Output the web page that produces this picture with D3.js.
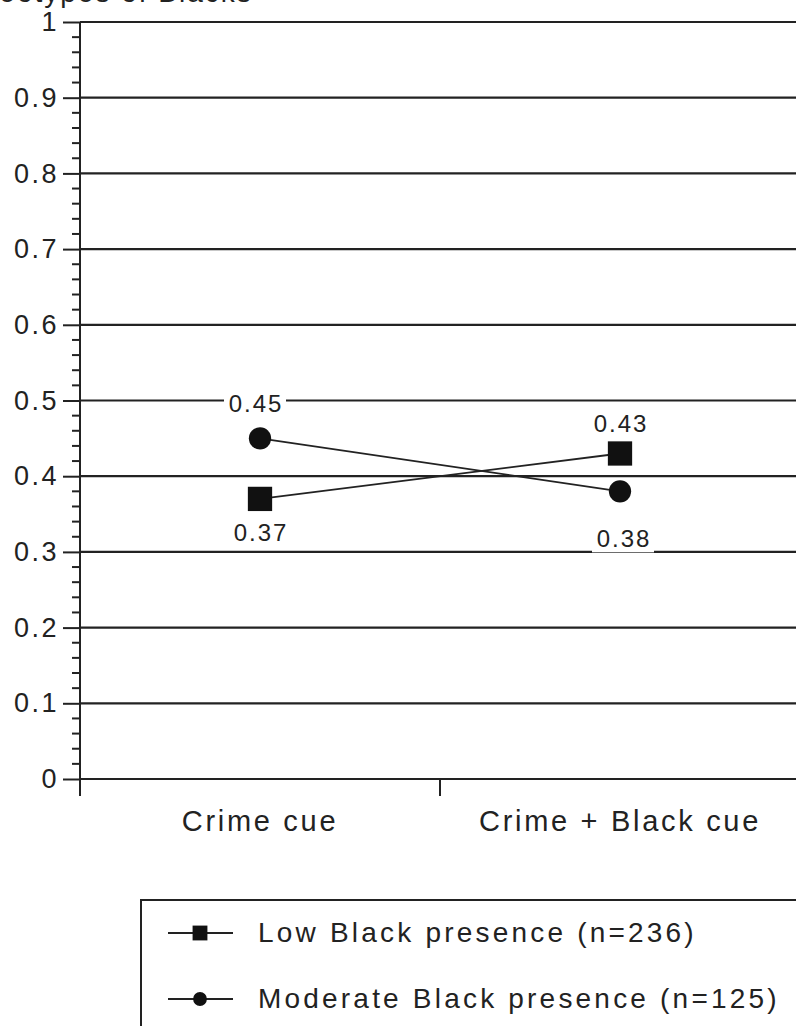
<!DOCTYPE html>
<html>
<head>
<meta charset="utf-8">
<script src="https://cdn.jsdelivr.net/npm/d3@7"></script>
<style>
  body { margin: 0; background: #fff; }
  text { font-family: "Liberation Sans", Arial, sans-serif; fill: #222; }
</style>
</head>
<body>
<div id="chart"></div>
<script>
// chart data
var categories = ["Crime cue", "Crime + Black cue"];
var lowPresence = [0.37, 0.43];
var moderatePresence = [0.45, 0.38];
var seriesNames = ["Low Black presence (n=236)", "Moderate Black presence (n=125)"];
var yTicks = [0, 0.1, 0.2, 0.3, 0.4, 0.5, 0.6, 0.7, 0.8, 0.9, 1];

var svgWidth = 796;
var svgHeight = 1026;

var margin = { top: 22, left: 80, right: -4, bottom: 247 };
var Width = svgWidth - margin.left - margin.right;
var Height = svgHeight - margin.top - margin.bottom;

var svg = d3.select("#chart")
    .append("svg")
    .attr("width", svgWidth)
    .attr("height", svgHeight);

// title, cut off at the top edge like the source
svg.append("text")
    .attr("x", -60)
    .attr("y", 2)
    .attr("font-size", 28)
    .attr("letter-spacing", 2)
    .text("Stereotypes of Blacks");

var chartGroup = svg.append("g")
    .attr("transform", `translate(${margin.left}, ${margin.top})`);

var xScale = d3.scaleBand()
    .domain(categories)
    .range([0, Width]);

var yScale = d3.scaleLinear()
    .domain([0, 1])
    .range([Height, 0]);

// gridlines
chartGroup.selectAll(".grid")
    .data(yTicks)
    .enter()
    .append("line")
    .attr("x1", 0)
    .attr("x2", Width)
    .attr("y1", d => yScale(d))
    .attr("y2", d => yScale(d))
    .attr("stroke", "#222")
    .attr("stroke-width", 2.2);

// minor ticks
var minor = d3.range(0, 1.0001, 0.02).filter(d => Math.round(d * 50) % 5 !== 0);
chartGroup.selectAll(".minor")
    .data(minor)
    .enter()
    .append("line")
    .attr("x1", -8)
    .attr("x2", 0)
    .attr("y1", d => yScale(d))
    .attr("y2", d => yScale(d))
    .attr("stroke", "#222")
    .attr("stroke-width", 2);

var leftAxis = d3.axisLeft(yScale)
    .tickValues(yTicks)
    .tickFormat(d => d === 0 || d === 1 ? d3.format("d")(d) : d3.format(".1f")(d))
    .tickSize(17)
    .tickPadding(4);

var yAxis = chartGroup.append("g").call(leftAxis);
yAxis.select(".domain").remove();
yAxis.selectAll("line").attr("stroke", "#222").attr("stroke-width", 2);
yAxis.selectAll("text")
    .attr("font-size", 27)
    .attr("letter-spacing", 2.5)
    .attr("font-family", "Liberation Sans, Arial, sans-serif")
    .attr("fill", "#222");

// y axis line, extends below zero
chartGroup.append("line")
    .attr("x1", 0).attr("x2", 0)
    .attr("y1", 0).attr("y2", Height + 17)
    .attr("stroke", "#222")
    .attr("stroke-width", 2);

// x axis category separators and labels
chartGroup.append("line")
    .attr("x1", xScale(categories[1])).attr("x2", xScale(categories[1]))
    .attr("y1", Height).attr("y2", Height + 17)
    .attr("stroke", "#222")
    .attr("stroke-width", 2);

chartGroup.selectAll(".xlabel")
    .data(categories)
    .enter()
    .append("text")
    .attr("x", d => xScale(d) + xScale.bandwidth() / 2)
    .attr("y", Height + 52)
    .attr("text-anchor", "middle")
    .attr("font-size", 29)
    .attr("letter-spacing", 2.7)
    .text(d => d);

var lineGen = d3.line()
    .x((d, i) => xScale(categories[i]) + xScale.bandwidth() / 2)
    .y(d => yScale(d));

var series = [
    { name: seriesNames[0], values: lowPresence, shape: d3.symbolSquare, labelDy: [42, -21], labelDx: [0, 0] },
    { name: seriesNames[1], values: moderatePresence, shape: d3.symbolCircle, labelDy: [-26, 56], labelDx: [-5, 3] }
];

series.forEach(function(s) {
    chartGroup.append("path")
        .attr("d", lineGen(s.values))
        .attr("fill", "none")
        .attr("stroke", "#222")
        .attr("stroke-width", 1.8);
});

series.forEach(function(s) {
    chartGroup.selectAll(null)
        .data(s.values)
        .enter()
        .append("path")
        .attr("transform", (d, i) => `translate(${xScale(categories[i]) + xScale.bandwidth() / 2}, ${yScale(d)})`)
        .attr("d", d3.symbol().type(s.shape).size(s.shape === d3.symbolSquare ? 590 : 390))
        .attr("fill", "#111");
});

// value labels with white background
series.forEach(function(s) {
    s.values.forEach(function(v, i) {
        var cx = xScale(categories[i]) + xScale.bandwidth() / 2 + s.labelDx[i];
        var cy = yScale(v) + s.labelDy[i];
        var g = chartGroup.append("g");
        g.append("rect")
            .attr("x", cx - 31)
            .attr("y", cy - 19)
            .attr("width", 62)
            .attr("height", 24)
            .attr("fill", "#fff");
        g.append("text")
            .attr("x", cx + 1)
            .attr("y", cy)
            .attr("text-anchor", "middle")
            .attr("font-size", 24)
            .attr("letter-spacing", 2)
            .text(v.toFixed(2));
    });
});

// legend
var legend = svg.append("g")
    .attr("transform", "translate(141, 900)");

legend.append("rect")
    .attr("x", 0)
    .attr("y", 0)
    .attr("width", 700)
    .attr("height", 200)
    .attr("fill", "#fff")
    .attr("stroke", "#222")
    .attr("stroke-width", 2);

series.forEach(function(s, i) {
    var ly = 33 + i * 66;
    legend.append("line")
        .attr("x1", 27).attr("x2", 92)
        .attr("y1", ly).attr("y2", ly)
        .attr("stroke", "#222")
        .attr("stroke-width", 2);
    legend.append("path")
        .attr("transform", `translate(59, ${ly})`)
        .attr("d", d3.symbol().type(s.shape).size(s.shape === d3.symbolSquare ? 220 : 150))
        .attr("fill", "#111");
    legend.append("text")
        .attr("x", 117)
        .attr("y", ly + 9)
        .attr("font-size", 28)
        .attr("letter-spacing", 3.2)
        .text(s.name);
});
</script>
</body>
</html>
